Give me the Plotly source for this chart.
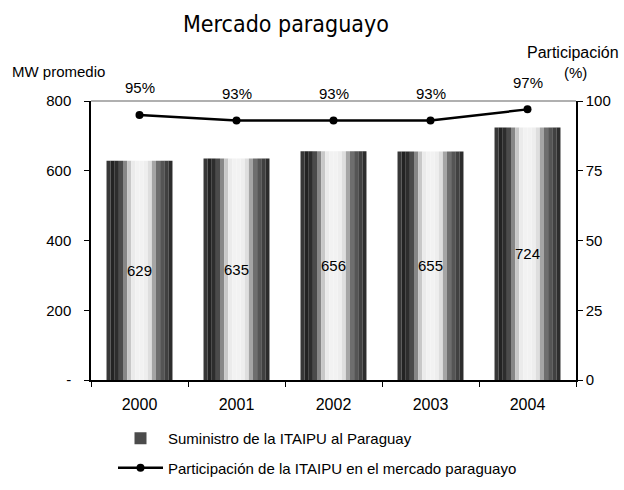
import plotly.graph_objects as go

# ---- data ----
categories = ["2000", "2001", "2002", "2003", "2004"]
suministro_mw = [629, 635, 656, 655, 724]
participacion_pct = [95, 93, 93, 93, 97]
pct_labels = ["95%", "93%", "93%", "93%", "97%"]
left_tickvals = [0, 200, 400, 600, 800]
left_ticktext = ["-", "200", "400", "600", "800"]
right_tickvals = [0, 25, 50, 75, 100]
right_ticktext = ["0", "25", "50", "75", "100"]

FONT = "Liberation Sans, Arial, sans-serif"

# plot area in pixels (for placing free texts)
PL, PR, PT, PB = 91, 576, 101, 380


def px(xp):
    return (xp - PL) / (PR - PL)


def py(yp):
    return (PB - yp) / (PB - PT)


fig = go.Figure()

# cylinder-like shading: bar drawn as narrow vertical slices
bar_width = 0.68
profile = [55, 35, 45, 75, 135, 200, 235, 242, 242, 238, 222, 165, 110, 85, 65, 45]
n = len(profile)
sw = bar_width / n
for i, g in enumerate(profile):
    fig.add_trace(go.Bar(
        x=categories, y=suministro_mw,
        width=sw,
        offset=-bar_width / 2 + i * sw,
        marker=dict(color=f"rgb({g},{g},{g})", line=dict(width=0)),
        name="Suministro de la ITAIPU al Paraguay",
        legendgroup="bar",
        showlegend=(i == 3),
        hoverinfo="skip",
        yaxis="y",
    ))

# value labels inside bars
fig.add_trace(go.Bar(
    x=categories, y=suministro_mw,
    width=bar_width, offset=-bar_width / 2,
    marker=dict(color="rgba(0,0,0,0)", line=dict(width=0)),
    text=[str(v) for v in suministro_mw],
    textposition="inside", insidetextanchor="middle",
    textfont=dict(family=FONT, size=15, color="black"),
    showlegend=False, hoverinfo="skip", yaxis="y",
))

# participation line
fig.add_trace(go.Scatter(
    x=categories, y=participacion_pct,
    mode="lines+markers",
    line=dict(color="black", width=2.5),
    marker=dict(color="black", size=8),
    name="Participación de la ITAIPU en el mercado paraguayo",
    legendgroup="line",
    yaxis="y2",
))

annotations = []
for i, (p, t) in enumerate(zip(participacion_pct, pct_labels)):
    annotations.append(dict(x=i, y=p, xref="x", yref="y2", text=t, showarrow=False,
                            yshift=27, font=dict(family=FONT, size=15, color="black")))

annotations += [
    dict(text="Mercado paraguayo", x=px(286), y=py(24), xref="paper", yref="paper",
         xanchor="center", yanchor="middle", showarrow=False,
         font=dict(family="DejaVu Sans Condensed, DejaVu Sans", size=23, color="black")),
    dict(text="MW promedio", x=px(10), y=py(71), xref="paper", yref="paper",
         xanchor="left", yanchor="middle", showarrow=False,
         font=dict(family=FONT, size=15, color="black")),
    dict(text="Participación", x=px(621), y=py(53), xref="paper", yref="paper",
         xanchor="right", yanchor="middle", showarrow=False,
         font=dict(family=FONT, size=16, color="black")),
    dict(text="(%)", x=px(575), y=py(73), xref="paper", yref="paper",
         xanchor="center", yanchor="middle", showarrow=False,
         font=dict(family=FONT, size=15, color="black")),
]

fig.update_layout(
    width=624, height=490,
    margin=dict(l=PL, r=624 - PR, t=PT, b=490 - PB, autoexpand=False),
    paper_bgcolor="white", plot_bgcolor="white",
    barmode="overlay",
    font=dict(family=FONT, size=15, color="black"),
    xaxis=dict(type="category", categoryorder="array", categoryarray=categories,
               range=[-0.5, len(categories) - 0.5], autorange=False,
               showline=True, linecolor="black", linewidth=1.5,
               ticks="outside", tickson="boundaries", ticklen=5, tickcolor="black",
               showgrid=False, tickangle=0, ticklabelstandoff=9,
               tickfont=dict(family=FONT, size=16, color="black")),
    yaxis=dict(range=[0, 800], tickvals=left_tickvals, ticktext=left_ticktext,
               showline=True, linecolor="black", linewidth=1.5, ticks="outside",
               ticklen=5, tickcolor="black", showgrid=False, zeroline=False,
               ticklabelstandoff=10,
               tickfont=dict(family=FONT, size=15, color="black")),
    yaxis2=dict(range=[0, 100], tickvals=right_tickvals, ticktext=right_ticktext,
                overlaying="y", side="right", showline=True, linecolor="black",
                linewidth=1.5, ticks="outside", ticklen=5, tickcolor="black",
                showgrid=False, zeroline=False,
                tickfont=dict(family=FONT, size=15, color="black")),
    legend=dict(x=px(113), y=py(422), xanchor="left", yanchor="top", orientation="v",
                tracegroupgap=7, itemwidth=45,
                font=dict(family=FONT, size=15, color="black"),
                bgcolor="rgba(0,0,0,0)"),
    annotations=annotations,
    shapes=[dict(type="line", xref="paper", yref="paper", x0=0, x1=1, y0=1, y1=1,
                 line=dict(color="rgb(150,150,150)", width=1.5))],
)

fig.write_html("out.html",
               config={"displayModeBar": False},
               post_script="document.body.style.margin='0';document.body.style.overflow='hidden';")
